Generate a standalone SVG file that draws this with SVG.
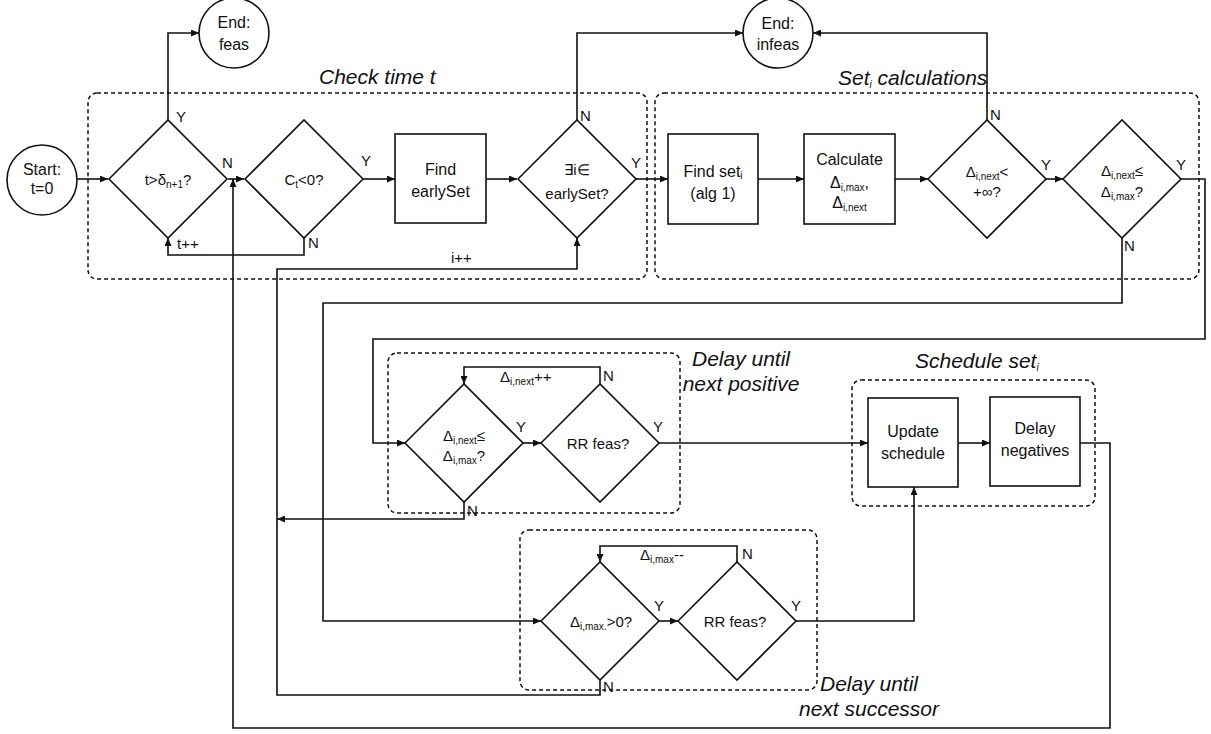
<svg xmlns="http://www.w3.org/2000/svg" width="1211" height="734" viewBox="0 0 1211 734">
<style>
text{font-family:"Liberation Sans",Arial,sans-serif;fill:#111}
.t{font-size:16px;text-anchor:middle}
.d{font-size:15px;text-anchor:middle}
.lb{font-size:15px}
.ti{font-size:21px;font-style:italic}
.tim{font-size:21px;font-style:italic;text-anchor:middle}
.s{font-size:10px}
.sh{fill:#fff;stroke:#111;stroke-width:1.6}
.grp{fill:none;stroke:#111;stroke-width:1.5;stroke-dasharray:4 3}
.c{fill:none;stroke:#111;stroke-width:1.6}
</style>
<defs>
<marker id="ah" markerUnits="userSpaceOnUse" markerWidth="9" markerHeight="7" refX="8" refY="3.5" orient="auto">
<path d="M0,0 L8,3.5 L0,7 z" fill="#111"/>
</marker>
</defs>
<rect width="1211" height="734" fill="#fff"/>

<g id="groups">
<rect class="grp" x="88" y="93" width="559" height="186" rx="9"/>
<rect class="grp" x="655" y="93" width="544" height="186" rx="9"/>
<rect class="grp" x="388" y="353" width="292" height="160" rx="9"/>
<rect class="grp" x="852" y="380" width="243" height="126" rx="9"/>
<rect class="grp" x="520" y="530" width="297" height="160" rx="9"/>
<text class="ti" x="319" y="84">Check time t</text>
<text class="ti" x="838" y="85">Set<tspan class="s" dy="3">i</tspan><tspan dy="-3"> calculations</tspan></text>
<text class="tim" x="741" y="366">Delay until</text>
<text class="tim" x="741" y="391">next positive</text>
<text class="ti" x="915" y="368">Schedule set<tspan class="s" dy="3">i</tspan></text>
<text class="tim" x="869" y="691">Delay until</text>
<text class="tim" x="869" y="716">next successor</text>
</g>

<g id="connectors">
<path class="c" d="M77,179 H108" marker-end="url(#ah)"/>
<path class="c" d="M168,120 V33 H199" marker-end="url(#ah)"/>
<path class="c" d="M228,179 H244" marker-end="url(#ah)"/>
<path class="c" d="M363,179 H395" marker-end="url(#ah)"/>
<path class="c" d="M304,238 V255 H168 V238" marker-end="url(#ah)"/>
<path class="c" d="M486,179 H517" marker-end="url(#ah)"/>
<path class="c" d="M577,120 V33 H743" marker-end="url(#ah)"/>
<path class="c" d="M636,179 H668" marker-end="url(#ah)"/>
<path class="c" d="M758,179 H804" marker-end="url(#ah)"/>
<path class="c" d="M895,179 H928" marker-end="url(#ah)"/>
<path class="c" d="M987,120 V33 H813" marker-end="url(#ah)"/>
<path class="c" d="M1046,179 H1063" marker-end="url(#ah)"/>
<path class="c" d="M1181,179 H1205 V339 H373 V443 H405" marker-end="url(#ah)"/>
<path class="c" d="M1122,238 V303 H323 V621 H541" marker-end="url(#ah)"/>
<path class="c" d="M523,443 H541" marker-end="url(#ah)"/>
<path class="c" d="M600,384 V367 H464 V384" marker-end="url(#ah)"/>
<path class="c" d="M659,443 H868" marker-end="url(#ah)"/>
<path class="c" d="M464,502 V519 H277" marker-end="url(#ah)"/>
<path class="c" d="M659,621 H678" marker-end="url(#ah)"/>
<path class="c" d="M737,562 V546 H600 V562" marker-end="url(#ah)"/>
<path class="c" d="M796,621 H914 V487" marker-end="url(#ah)"/>
<path class="c" d="M600,680 V695 H277 V269 H577 V238" marker-end="url(#ah)"/>
<path class="c" d="M958,443 H990" marker-end="url(#ah)"/>
<path class="c" d="M1080,443 H1110 V728 H233 V179" marker-end="url(#ah)"/>
<text class="lb" x="176" y="122">Y</text>
<text class="lb" x="222" y="168">N</text>
<text class="lb" x="361" y="166">Y</text>
<text class="lb" x="308" y="248">N</text>
<text class="lb" x="177" y="249">t++</text>
<text class="lb" x="580" y="121">N</text>
<text class="lb" x="631" y="168">Y</text>
<text class="lb" x="451" y="263">i++</text>
<text class="lb" x="990" y="120">N</text>
<text class="lb" x="1041" y="170">Y</text>
<text class="lb" x="1176" y="170">Y</text>
<text class="lb" x="1124" y="251">N</text>
<text class="lb" x="516" y="432">Y</text>
<text class="lb" x="653" y="432">Y</text>
<text class="lb" x="603" y="381">N</text>
<text class="lb" x="467" y="516">N</text>
<text class="lb" x="500" y="382">Δ<tspan class="s" dy="3">i,next</tspan><tspan dy="-3">++</tspan></text>
<text class="lb" x="654" y="611">Y</text>
<text class="lb" x="791" y="611">Y</text>
<text class="lb" x="742" y="559">N</text>
<text class="lb" x="603" y="692">N</text>
<text class="lb" x="640" y="560">Δ<tspan class="s" dy="3">i,max</tspan><tspan dy="-3">--</tspan></text>
</g>

<g id="start">
<circle class="sh" cx="42" cy="180" r="35"/>
<text class="t" x="42" y="175">Start:</text>
<text class="t" x="42" y="194">t=0</text>
</g>
<g id="end-feas">
<circle class="sh" cx="234" cy="33" r="35"/>
<text class="t" x="234" y="28">End:</text>
<text class="t" x="234" y="50">feas</text>
</g>
<g id="end-infeas">
<circle class="sh" cx="778" cy="33" r="35"/>
<text class="t" x="778" y="29">End:</text>
<text class="t" x="778" y="50">infeas</text>
</g>
<g id="check-t">
<polygon class="sh" points="109,179 168,120 227,179 168,238"/>
<text class="d" x="168" y="185">t&gt;δ<tspan class="s" dy="3">n+1</tspan><tspan dy="-3">?</tspan></text>
</g>
<g id="check-ct">
<polygon class="sh" points="245,179 304,120 363,179 304,238"/>
<text class="d" x="304" y="185">C<tspan class="s" dy="3">t</tspan><tspan dy="-3">&lt;0?</tspan></text>
</g>
<g id="find-earlyset">
<rect class="sh" x="395" y="134" width="91" height="89"/>
<text class="t" x="440.5" y="175">Find</text>
<text class="t" x="440.5" y="197">earlySet</text>
</g>
<g id="exists-i">
<polygon class="sh" points="518,179 577,120 636,179 577,238"/>
<text class="d" x="577" y="175">∃i∈</text>
<text class="d" x="577" y="199">earlySet?</text>
</g>
<g id="find-seti">
<rect class="sh" x="668" y="134" width="90" height="90"/>
<text class="t" x="713" y="177">Find set<tspan class="s" dy="2">i</tspan></text>
<text class="t" x="713" y="199">(alg 1)</text>
</g>
<g id="calculate">
<rect class="sh" x="804" y="134" width="91" height="90"/>
<text class="t" x="849.5" y="165">Calculate</text>
<text class="t" x="849.5" y="188">Δ<tspan class="s" dy="3">i,max</tspan><tspan dy="-3">,</tspan></text>
<text class="t" x="849.5" y="208">Δ<tspan class="s" dy="3">i,next</tspan></text>
</g>
<g id="next-finite">
<polygon class="sh" points="928,179 987,120 1046,179 987,238"/>
<text class="d" x="987" y="177">Δ<tspan class="s" dy="3">i,next</tspan><tspan dy="-3">&lt;</tspan></text>
<text class="d" x="987" y="197">+∞?</text>
</g>
<g id="next-le-max">
<polygon class="sh" points="1063,179 1122,120 1181,179 1122,238"/>
<text class="d" x="1122" y="176">Δ<tspan class="s" dy="3">i,next</tspan><tspan dy="-3">≤</tspan></text>
<text class="d" x="1122" y="197">Δ<tspan class="s" dy="3">i,max</tspan><tspan dy="-3">?</tspan></text>
</g>
<g id="pos-check">
<polygon class="sh" points="405,443 464,384 523,443 464,502"/>
<text class="d" x="464" y="441">Δ<tspan class="s" dy="3">i,next</tspan><tspan dy="-3">≤</tspan></text>
<text class="d" x="464" y="461">Δ<tspan class="s" dy="3">i,max</tspan><tspan dy="-3">?</tspan></text>
</g>
<g id="pos-rr">
<polygon class="sh" points="541,443 600,384 659,443 600,502"/>
<text class="d" x="598" y="449">RR feas?</text>
</g>
<g id="update-schedule">
<rect class="sh" x="868" y="398" width="90" height="89"/>
<text class="t" x="913" y="437">Update</text>
<text class="t" x="913" y="459">schedule</text>
</g>
<g id="delay-negatives">
<rect class="sh" x="990" y="397" width="90" height="89"/>
<text class="t" x="1035" y="434">Delay</text>
<text class="t" x="1035" y="456">negatives</text>
</g>
<g id="succ-check">
<polygon class="sh" points="541,621 600,562 659,621 600,680"/>
<text class="d" x="601" y="627">Δ<tspan class="s" dy="3">i,max.</tspan><tspan dy="-3">&gt;0?</tspan></text>
</g>
<g id="succ-rr">
<polygon class="sh" points="678,621 737,562 796,621 737,680"/>
<text class="d" x="735" y="627">RR feas?</text>
</g>
</svg>
